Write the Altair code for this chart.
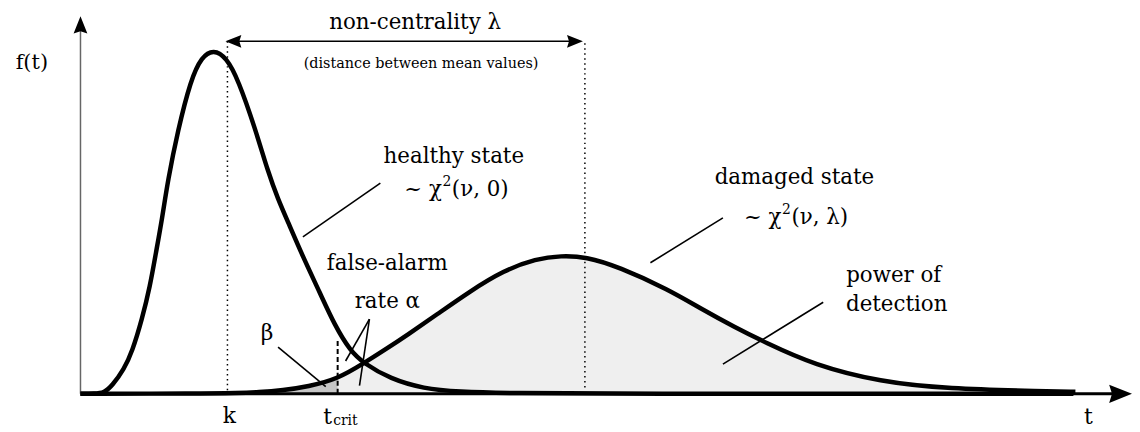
import altair as alt
import pandas as pd

# ---- values (t = statistic, f = density, arbitrary units) ----
healthy_t = [0.00, 0.14, 0.24, 0.32, 0.44, 0.52, 0.62, 0.70, 0.76, 0.82, 0.88, 0.98, 1.11, 1.22,
             1.34, 1.47, 1.59, 1.76, 1.89, 1.99, 2.09, 2.24, 2.41, 2.56, 2.72, 2.85, 3.12, 3.46,
             3.79, 4.39, 5.19, 10.0]
healthy_f = [0.0, 0.0, 0.003, 0.024, 0.074, 0.124, 0.221, 0.318, 0.418, 0.515, 0.632, 0.779,
             0.930, 0.998, 1.020, 0.996, 0.929, 0.785, 0.656, 0.576, 0.509, 0.406, 0.300, 0.203,
             0.126, 0.091, 0.044, 0.015, 0.006, 0.0015, 0.0, 0.0]

damaged_t = [0.00, 1.19, 1.59, 1.79, 2.04, 2.29, 2.59, 2.84, 3.09, 3.29, 3.59, 3.92, 4.26, 4.59,
             4.84, 5.09, 5.42, 5.92, 6.26, 6.59, 6.89, 7.39, 8.06, 8.72, 9.72, 10.02]
damaged_f = [0.0, 0.0006, 0.0024, 0.0044, 0.0103, 0.021, 0.044, 0.088, 0.135, 0.174, 0.235,
             0.303, 0.365, 0.400, 0.409, 0.406, 0.376, 0.309, 0.250, 0.197, 0.153, 0.085, 0.035,
             0.015, 0.0074, 0.006]

t_crit = 2.59
k_value = 1.48
mean_damaged = 5.08

FONT = "DejaVu Serif"

healthy = pd.DataFrame({"t": healthy_t, "f": healthy_f})
damaged = pd.DataFrame({"t": damaged_t, "f": damaged_f})

XS = alt.Scale(domain=[-0.73, 10.59], nice=False, zero=False)
YS = alt.Scale(domain=[-0.1088235, 1.1382353], nice=False, zero=False)


def X(field="t"):
    return alt.X(f"{field}:Q", scale=XS, axis=None)


def Y(field="f"):
    return alt.Y(f"{field}:Q", scale=YS, axis=None)


INTERP = "basis"

# shaded regions under the damaged-state curve
beta_area = alt.Chart(damaged).transform_filter(alt.datum.t <= t_crit).mark_area(
    color="#c6c6c6", interpolate=INTERP).encode(x=X(), y=Y(), y2=alt.datum(0))
power_area = alt.Chart(damaged).transform_filter(alt.datum.t >= t_crit).mark_area(
    color="#efefef", interpolate=INTERP).encode(x=X(), y=Y(), y2=alt.datum(0))

# vertical reference lines
vlines = pd.DataFrame({"t": [k_value, mean_damaged], "f1": [1.044, 1.038], "f2": [0.009, 0.009]})
dotted = alt.Chart(vlines).mark_rule(color="black", strokeWidth=1.5, strokeDash=[1.5, 3.5]).encode(
    x=X(), y=Y("f1"), y2=alt.Y2("f2"))
tcrit_df = pd.DataFrame({"t": [t_crit], "f1": [0.156], "f2": [0.0]})
dashed = alt.Chart(tcrit_df).mark_rule(color="black", strokeWidth=2, strokeDash=[5, 3]).encode(
    x=X(), y=Y("f1"), y2=alt.Y2("f2"))

# curves
healthy_line = alt.Chart(healthy).mark_line(color="black", strokeWidth=4.5, interpolate=INTERP).encode(
    x=X(), y=Y())
damaged_line = alt.Chart(damaged).mark_line(color="black", strokeWidth=4.5, interpolate=INTERP).encode(
    x=X(), y=Y())

# axes
xaxis_df = pd.DataFrame({"t": [0.0], "t2": [10.40], "f": [0.0]})
xaxis = alt.Chart(xaxis_df).mark_rule(color="black", strokeWidth=3).encode(
    x=X(), x2=alt.X2("t2"), y=Y())
yaxis_df = pd.DataFrame({"t": [0.0], "f": [0.0], "f2": [1.08]})
yaxis = alt.Chart(yaxis_df).mark_rule(color="#666666", strokeWidth=1.5).encode(
    x=X(), y=Y(), y2=alt.Y2("f2"))

# lambda arrow line
lam_df = pd.DataFrame({"t": [1.52], "t2": [5.02], "f": [1.0441]})
lam_line = alt.Chart(lam_df).mark_rule(color="black", strokeWidth=1.5).encode(
    x=X(), x2=alt.X2("t2"), y=Y())

ARROW = "M-1,-0.8L1,0L-1,0.8L-0.75,0Z"
heads = pd.DataFrame({
    "t": [10.475, 0.0, 1.54, 4.98],
    "f": [0.0, 1.0926, 1.0441, 1.0441],
    "ang": [0, 270, 180, 0],
    "sz": [529, 300, 256, 256],
})
arrowheads = alt.Chart(heads).mark_point(shape=ARROW, filled=True, color="black", opacity=1,
                                         strokeWidth=0).encode(
    x=X(), y=Y(), angle=alt.Angle("ang:Q", scale=None), size=alt.Size("sz:Q", scale=None))

# leader lines for annotations
leaders = pd.DataFrame({
    "t": [2.24, 5.74, 6.47, 2.91, 2.91, 1.99],
    "f": [0.465, 0.388, 0.088, 0.221, 0.221, 0.138],
    "t2": [3.02, 6.47, 7.48, 2.67, 2.81, 2.47],
    "f2": [0.624, 0.521, 0.271, 0.097, 0.024, 0.021],
})
leader_lines = alt.Chart(leaders).mark_rule(color="black", strokeWidth=1.6).encode(
    x=X(), y=Y(), x2=alt.X2("t2"), y2=alt.Y2("f2"))

# centred texts
labels = pd.DataFrame({
    "txt": ["non-centrality λ", "(distance between mean values)", "f(t)",
            "healthy state", "damaged state",
            "false-alarm", "rate α", "power of", "detection", "β", "k", "t", "t"],
    "t": [3.37, 3.43, -0.49, 3.76, 7.19, 3.09, 3.09, 8.19, 8.22, 1.88, 1.50, 2.49, 10.15],
    "f": [1.097, 0.976, 0.979, 0.700, 0.638, 0.385, 0.271, 0.35, 0.262, 0.179,
          -0.065, -0.068, -0.068],
    "sz": [21.5, 14.5, 21, 21.5, 21.5, 21.5, 21.5, 21.5, 21.5, 22, 22, 22, 22],
})
texts = alt.Chart(labels).mark_text(font=FONT, align="center", baseline="middle", color="black").encode(
    x=X(), y=Y(), text="txt:N", size=alt.Size("sz:Q", scale=None))

# distribution formulas: "~ χ" + superscript 2 + "(ν, ·)"
chi_left = pd.DataFrame({"txt": ["~ χ", "~ χ"], "t": [3.64, 7.06], "f": [0.603, 0.521]})
chi_left_m = alt.Chart(chi_left).mark_text(font=FONT, align="right", baseline="middle", color="black",
                                           fontSize=21.5).encode(x=X(), y=Y(), text="txt:N")
chi_sup = pd.DataFrame({"txt": ["2", "2"], "t": [3.645, 7.065], "f": [0.627, 0.545]})
chi_sup_m = alt.Chart(chi_sup).mark_text(font=FONT, align="left", baseline="middle", color="black",
                                         fontSize=14).encode(x=X(), y=Y(), text="txt:N")
chi_right = pd.DataFrame({"txt": ["(ν, 0)", "(ν, λ)"], "t": [3.74, 7.16], "f": [0.603, 0.521]})
chi_right_m = alt.Chart(chi_right).mark_text(font=FONT, align="left", baseline="middle", color="black",
                                             fontSize=21.5).encode(x=X(), y=Y(), text="txt:N")

sub_df = pd.DataFrame({"txt": ["crit"], "t": [2.545], "f": [-0.082]})
subscript = alt.Chart(sub_df).mark_text(font=FONT, align="left", baseline="middle", color="black",
                                        fontSize=14).encode(x=X(), y=Y(), text="txt:N")

chart = alt.layer(
    power_area, beta_area, dotted, dashed, xaxis, yaxis, healthy_line, damaged_line,
    lam_line, arrowheads, leader_lines, texts, chi_left_m, chi_sup_m, chi_right_m, subscript,
).properties(
    width=1132, height=424, autosize="none", padding=0, background="white",
).configure_view(strokeWidth=0)

chart.save("out.html", embed_options={"renderer": "svg", "actions": False})
